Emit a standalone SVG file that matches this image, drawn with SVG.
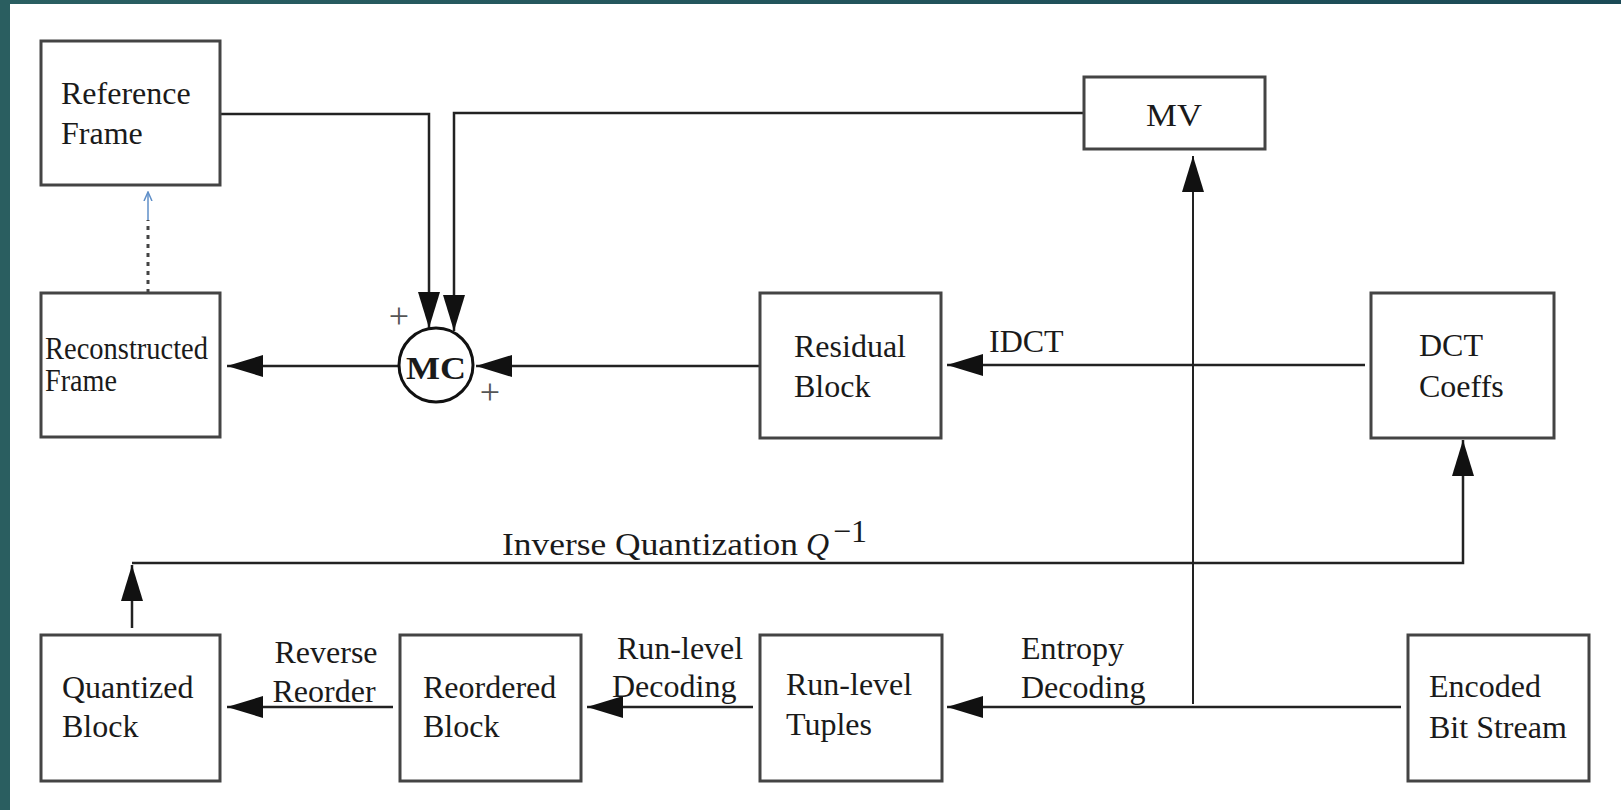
<svg xmlns="http://www.w3.org/2000/svg" width="1621" height="810" viewBox="0 0 1621 810">
<defs>
<linearGradient id="topg" x1="0" y1="0" x2="1" y2="0">
<stop offset="0" stop-color="#2a5f62"/>
<stop offset="1" stop-color="#1b4a56"/>
</linearGradient>
<marker id="ah" markerUnits="userSpaceOnUse" markerWidth="36" markerHeight="22" refX="36" refY="11" orient="auto">
<path d="M0,0 L36,11 L0,22 z" fill="#111"/>
</marker>
<marker id="ahs" markerUnits="userSpaceOnUse" markerWidth="10" markerHeight="10" refX="9" refY="5" orient="auto">
<path d="M0,1 L9,5 L0,9" fill="none" stroke="#5f8fc8" stroke-width="1.5"/>
</marker>
<style>
.box{fill:#fff;stroke:#444;stroke-width:3}
.t{font-family:"Liberation Serif","Times New Roman",serif;font-size:32px;fill:#1a1a1a}
.ln{fill:none;stroke:#222;stroke-width:2.5}
.thin{fill:none;stroke:#222;stroke-width:2}
.plus{font-family:"Liberation Serif",serif;font-size:36px;fill:#555;text-anchor:middle}
</style>
</defs>
<rect x="0" y="0" width="1621" height="810" fill="#fff"/>
<rect x="0" y="0" width="1621" height="4" fill="url(#topg)"/>
<rect x="0" y="0" width="10" height="810" fill="#2a5e60"/>

<g id="connectors">
<path class="ln" d="M220,114 H429 V328" marker-end="url(#ah)"/>
<path class="ln" d="M1084,113 H454 V331" marker-end="url(#ah)"/>
<path class="ln" d="M399,366 H227" marker-end="url(#ah)"/>
<path class="ln" d="M760,366 H476" marker-end="url(#ah)"/>
<path class="ln" d="M1365,365 H947" marker-end="url(#ah)"/>
<path class="thin" d="M1193,704 V156" marker-end="url(#ah)"/>
<path class="ln" d="M1401,707 H947" marker-end="url(#ah)"/>
<path class="ln" d="M753,707 H587" marker-end="url(#ah)"/>
<path class="ln" d="M393,707 H227" marker-end="url(#ah)"/>
<path class="ln" d="M132,628 V565" marker-end="url(#ah)"/>
<path class="ln" d="M132,563 H1463 V440" marker-end="url(#ah)"/>
<path d="M148,293 V220" fill="none" stroke="#444" stroke-width="3" stroke-dasharray="4 5"/>
<path d="M148,220 V192" fill="none" stroke="#5f8fc8" stroke-width="1.5" marker-end="url(#ahs)"/>
<text class="t" x="989" y="352">IDCT</text>
<text class="t" x="502" y="555" font-size="34" textLength="296" lengthAdjust="spacingAndGlyphs">Inverse Quantization</text>
<text class="t" x="806" y="555" font-size="34" font-style="italic">Q</text>
<text class="t" x="833" y="542" font-size="22">−1</text>
<text class="t" x="326" y="663" text-anchor="middle">Reverse</text>
<text class="t" x="324" y="702" text-anchor="middle">Reorder</text>
<text class="t" x="617" y="659">Run-level</text>
<text class="t" x="612" y="697">Decoding</text>
<text class="t" x="1021" y="659">Entropy</text>
<text class="t" x="1021" y="698">Decoding</text>
</g>

<g id="ref-frame">
<rect class="box" x="41" y="41" width="179" height="144"/>
<text class="t" x="61" y="104">Reference</text>
<text class="t" x="61" y="144">Frame</text>
</g>
<g id="recon-frame">
<rect class="box" x="41" y="293" width="179" height="144"/>
<text class="t" x="45" y="359" font-size="28" textLength="163" lengthAdjust="spacingAndGlyphs">Reconstructed</text>
<text class="t" x="45" y="391" font-size="28" textLength="72" lengthAdjust="spacingAndGlyphs">Frame</text>
</g>
<g id="mc">
<circle cx="436" cy="365" r="37" fill="#fff" stroke="#111" stroke-width="3"/>
<text class="t" x="436" y="379" text-anchor="middle" font-weight="bold" font-size="38" textLength="60" lengthAdjust="spacingAndGlyphs">MC</text>
<text class="plus" x="399" y="328">+</text>
<text class="plus" x="490" y="404">+</text>
</g>
<g id="mv">
<rect class="box" x="1084" y="77" width="181" height="72"/>
<text class="t" x="1174" y="126" text-anchor="middle" font-size="38" textLength="56" lengthAdjust="spacingAndGlyphs">MV</text>
</g>
<g id="residual">
<rect class="box" x="760" y="293" width="181" height="145"/>
<text class="t" x="794" y="357">Residual</text>
<text class="t" x="794" y="397">Block</text>
</g>
<g id="dct">
<rect class="box" x="1371" y="293" width="183" height="145"/>
<text class="t" x="1419" y="356">DCT</text>
<text class="t" x="1419" y="397">Coeffs</text>
</g>
<g id="quantized">
<rect class="box" x="41" y="635" width="179" height="146"/>
<text class="t" x="62" y="698">Quantized</text>
<text class="t" x="62" y="737">Block</text>
</g>
<g id="reordered">
<rect class="box" x="400" y="635" width="181" height="146"/>
<text class="t" x="423" y="698">Reordered</text>
<text class="t" x="423" y="737">Block</text>
</g>
<g id="tuples">
<rect class="box" x="760" y="635" width="182" height="146"/>
<text class="t" x="786" y="695">Run-level</text>
<text class="t" x="786" y="735">Tuples</text>
</g>
<g id="encoded">
<rect class="box" x="1408" y="635" width="181" height="146"/>
<text class="t" x="1429" y="697">Encoded</text>
<text class="t" x="1429" y="738">Bit Stream</text>
</g>
</svg>
